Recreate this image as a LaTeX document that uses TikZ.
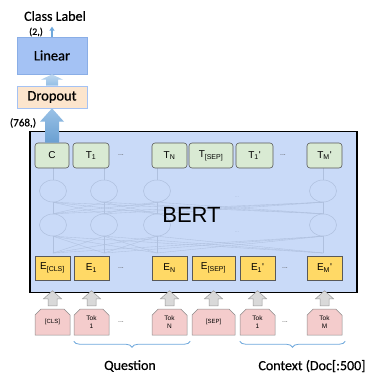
\documentclass[tikz,border=0pt]{standalone}
\usepackage{fontspec}
\setmainfont{Carlito}[FakeBold=0.6]
\newfontfamily\arialfont{Liberation Sans}
\usetikzlibrary{shapes.geometric,shapes.misc,decorations.pathreplacing,arrows.meta,calc}

\definecolor{bertbg}{HTML}{C9DAF8}
\definecolor{linfill}{HTML}{A4C2F4}
\definecolor{linedge}{HTML}{8AAEE6}
\definecolor{dropfill}{HTML}{FCE5CD}
\definecolor{dropedge}{HTML}{A4C2F4}
\definecolor{tgreen}{HTML}{D9EAD3}
\definecolor{egold}{HTML}{FFD966}
\definecolor{tokpink}{HTML}{F4CCCC}
\definecolor{grayfill}{HTML}{D9D9D9}
\definecolor{grayedge}{HTML}{9A9A9A}
\definecolor{braceblue}{HTML}{6FA8DC}
\definecolor{arrowblue}{HTML}{6FA8DC}
\definecolor{netgray}{HTML}{AFC0DE}

\newcommand\tsub[1]{\textsubscript{#1}}

\tikzset{
  tbox/.style={draw=black!65, fill=tgreen, rounded corners=3pt, line width=0.6pt,
    minimum height=25pt, inner sep=0pt, font=\arialfont\fontsize{10}{10}\selectfont},
  ebox/.style={draw=black!65, fill=egold, line width=0.6pt,
    minimum height=24pt, inner sep=0pt, font=\arialfont\fontsize{10}{10}\selectfont},
  tokbox/.style={chamfered rectangle, chamfered rectangle corners={north west,north east},
    chamfered rectangle xsep=3pt, draw=black!45, fill=tokpink, line width=0.5pt,
    minimum height=26pt, inner sep=0pt, align=center,
    font=\arialfont\fontsize{6.5}{7.5}\selectfont},
  ellip/.style={font=\arialfont\fontsize{7}{7}\selectfont, text=black!70, inner sep=0pt},
  faintdots/.style={font=\arialfont\fontsize{6}{6}\selectfont, text=netgray, inner sep=0pt},
  neuron/.style={ellipse, draw=netgray, line width=0.5pt, minimum width=27pt,
    minimum height=22pt, inner sep=0pt},
  netline/.style={draw=netgray, line width=0.35pt},
  grayarrow/.style={fill=grayfill, draw=grayedge, line width=0.5pt, line join=miter},
  brace/.style={decorate, decoration={brace, mirror, amplitude=6pt},
    draw=braceblue, line width=0.8pt},
  label/.style={inner sep=0pt, font=\fontsize{14}{14}\selectfont}
}

\begin{document}
\begin{tikzpicture}[x=1pt,y=-1pt]
\useasboundingbox (0,0) rectangle (369,375);

% classifier head
\node[label] (cls) at (55,16) {Class Label};
\node[inner sep=0pt, font=\fontsize{10}{10}\selectfont] (shape2) at (36,32) {(2,)};
\node[draw=linedge, fill=linfill, line width=0.6pt, minimum width=70pt, minimum height=37pt,
  inner sep=0pt, font=\fontsize{14.5}{14.5}\selectfont] (lin) at (52,55.5) {Linear};
\node[draw=dropedge, fill=dropfill, line width=0.6pt, minimum width=70pt, minimum height=22pt,
  inner sep=0pt, font=\fontsize{14.5}{14.5}\selectfont] (drop) at (52,97) {Dropout};
\node[inner sep=0pt, font=\fontsize{11}{11}\selectfont] (shape768) at (23,123) {(768,)};

% BERT encoder frame
\node[draw=black, fill=bertbg, line width=1.5pt, minimum width=327pt, minimum height=161pt,
  inner sep=0pt] (bert) at (193.5,212) {};

% hidden layers of the encoder
\foreach \n/\x in {1/53,2/104,3/157,4/323}{
  \node[neuron] (a\n) at (\x,191) {};
  \node[neuron] (b\n) at (\x,225) {};
  \coordinate (e\n) at (\x,253);
  \coordinate (t\n) at (\x,168);
}
\foreach \i in {1,...,4}{
  \foreach \j in {1,...,4}{
    \draw[netline] (b\j.north) -- (a\i.south);
    \draw[netline] (e\j) -- (b\i.south);
  }
  \draw[netline] (t\i) -- (a\i.north);
  \draw[netline] (a\i.south) -- (b\i.north);
}
\node[faintdots] (hd1) at (237,197) {...};
\node[faintdots] (hd2) at (237,232) {...};
\node[inner sep=0pt, font=\arialfont\fontsize{22}{22}\selectfont] (bertlbl) at (191.5,215) {BERT};

% output row
\node[tbox, minimum width=34pt] (tc) at (52,155.5) {C};
\node[tbox, minimum width=36pt] (t1o) at (91,155.5) {T\tsub{1}};
\node[ellip] (tdots1) at (121,155.5) {...};
\node[tbox, minimum width=35pt] (tno) at (169.5,155.5) {T\tsub{N}};
\node[tbox, minimum width=44pt] (tsep) at (211,155.5) {T\tsub{[SEP]}};
\node[tbox, minimum width=37pt] (t1p) at (254.5,155.5) {T\tsub{1}'};
\node[ellip] (tdots2) at (283,155.5) {...};
\node[tbox, minimum width=35pt] (tmp) at (324.5,155.5) {T\tsub{M}'};

% embedding row
\node[ebox, minimum width=35pt] (ecls) at (52.5,268) {E\tsub{[CLS]}};
\node[ebox, minimum width=35pt] (e1o) at (91.5,268) {E\tsub{1}};
\node[ellip] (edots1) at (121,268) {...};
\node[ebox, minimum width=35pt] (eno) at (169.5,268) {E\tsub{N}};
\node[ebox, minimum width=43pt] (esep) at (213.5,268) {E\tsub{[SEP]}};
\node[ebox, minimum width=35pt] (e1p) at (257.5,268) {E\tsub{1}'};
\node[ellip] (edots2) at (285,268) {...};
\node[ebox, minimum width=35pt] (emp) at (324.5,268) {E\tsub{M}'};

% input tokens
\node[tokbox, minimum width=35pt, font=\arialfont\fontsize{6}{6}\selectfont] (kcls) at (52.5,322) {[CLS]};
\node[tokbox, minimum width=35pt] (k1) at (91.5,322) {Tok\\1};
\node[ellip] (kdots1) at (121,322) {...};
\node[tokbox, minimum width=35pt] (kn) at (169.5,322) {Tok\\N};
\node[tokbox, minimum width=43pt, font=\arialfont\fontsize{6}{6}\selectfont] (ksep) at (213.5,322) {[SEP]};
\node[tokbox, minimum width=35pt] (k1p) at (257.5,322) {Tok\\1};
\node[ellip] (kdots2) at (285,322) {...};
\node[tokbox, minimum width=35pt] (km) at (324.5,322) {Tok\\M};

% gray block arrows from tokens into the encoder
\foreach \k in {kcls,k1,kn,ksep,k1p,km}{
  \draw[grayarrow] ($(\k.north)+(-4.5,-3)$) -- ($(\k.north)+(-4.5,-10)$)
    -- ($(\k.north)+(-9,-10)$) -- ($(\k.north)+(0,-18)$) -- ($(\k.north)+(9,-10)$)
    -- ($(\k.north)+(4.5,-10)$) -- ($(\k.north)+(4.5,-3)$) -- cycle;
}

% pooled output arrow into dropout
\shade[top color=arrowblue!70, bottom color=arrowblue!95!black] ($(tc.north)+(-7,0)$) -- ($(tc.north)+(-7,-21)$)
  -- ($(tc.north)+(-12,-21)$) -- (drop.south -| tc.north) -- ($(tc.north)+(12,-21)$)
  -- ($(tc.north)+(7,-21)$) -- ($(tc.north)+(7,0)$) -- cycle;

% dropout into linear
\shade[top color=arrowblue!45, bottom color=arrowblue!75] ($(drop.north)+(-6,0)$) -- ($(drop.north)+(-6,-6)$)
  -- ($(drop.north)+(-11,-6)$) -- (lin.south) -- ($(drop.north)+(11,-6)$)
  -- ($(drop.north)+(6,-6)$) -- ($(drop.north)+(6,0)$) -- cycle;

% linear to class label
\draw[arrowblue, line width=1.3pt, -{Triangle[length=4pt,width=5pt]}] (lin.north) -- ($(lin.north)+(0,-10)$);

% segment braces
\draw[brace] ($(k1.south west)+(0,6)$) -- ($(kn.south east)+(3,6)$);
\draw[brace] ($(k1p.south west)+(0,6)$) -- ($(km.south east)+(3,6)$);
\node[label] (qlbl) at (130,366) {Question};
\node[label] (clbl) at (312,366) {Context (Doc[:500]};
\end{tikzpicture}
\end{document}
